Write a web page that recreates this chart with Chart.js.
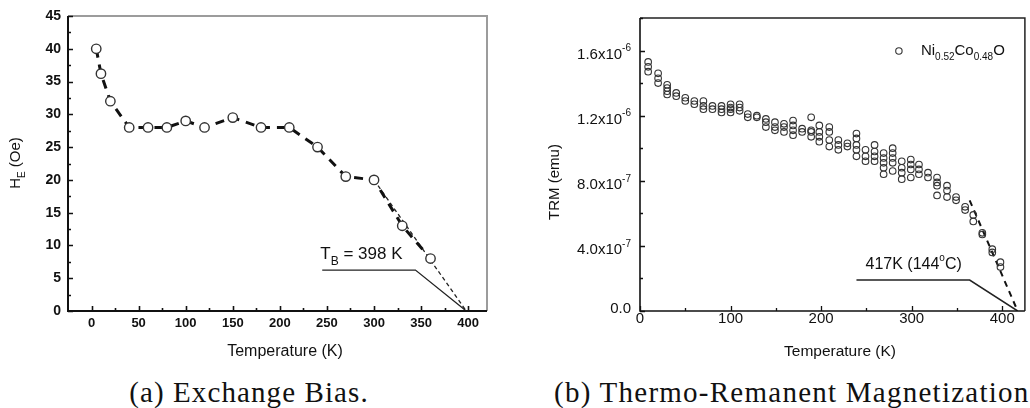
<!DOCTYPE html>
<html lang="en">
<head>
<meta charset="UTF-8" />
<title>Exchange Bias and Thermo-Remanent Magnetization</title>
<script src="https://cdn.jsdelivr.net/npm/chart.js"></script>
<style>
  body { margin: 0; background: #fff; width: 1030px; height: 408px; overflow: hidden; position: relative; }
  .panel { position: absolute; top: 0; height: 370px; }
  #panelA { left: 0; width: 510px; }
  #panelB { left: 510px; width: 520px; }
  .caption { position: absolute; top: 376px; line-height: 32px; font-family: "Liberation Serif", "Times New Roman", serif;
             font-size: 29px; letter-spacing: 1.1px; color: #111; white-space: nowrap; }
  #capA { left: 0; width: 498px; text-align: center; }
  #capB { left: 554px; letter-spacing: 1.25px; }
</style>
</head>
<body>
<div class="panel" id="panelA"><canvas id="biasChart"></canvas></div>
<div class="panel" id="panelB"><canvas id="trmChart"></canvas></div>
<div class="caption" id="capA">(a) Exchange Bias.</div>
<div class="caption" id="capB">(b) Thermo-Remanent Magnetization</div>

<script>
// --- (a) exchange bias field H_E (Oe) vs temperature (K)
const biasTemps = [5, 10, 20, 40, 60, 80, 100, 120, 150, 180, 210, 240, 270, 300, 330, 360];
const biasField = [40, 36.2, 32, 28, 28, 28, 29, 28, 29.5, 28, 28, 25, 20.5, 20, 13, 8];
// straight-line extrapolation down to the blocking temperature
const biasFitTemps = [300, 398];
const biasFitField = [20, 0];
// leader line from the T_B label to the axis
const biasLeaderTemps = [245, 344, 398];
const biasLeaderField = [6.25, 6.25, 0];
const biasXTicks = [0, 50, 100, 150, 200, 250, 300, 350, 400];
const biasYTicks = [0, 5, 10, 15, 20, 25, 30, 35, 40, 45];

// --- (b) TRM (units of 1e-6 emu); several runs read at each temperature
const trmTemps = [9, 20, 30, 40, 50, 60, 70, 80, 90, 100, 110, 119, 129, 139, 149, 159, 169, 179, 189, 198,
                  209, 219, 229, 239, 249, 259, 269, 279, 289, 299, 308, 318, 328, 339, 349, 359, 368, 378, 389, 398];
const trmReadings = [
  [1.53, 1.50, 1.47], [1.46, 1.43, 1.40], [1.39, 1.37, 1.35, 1.33], [1.34, 1.32], [1.31, 1.29],
  [1.29, 1.27], [1.29, 1.26, 1.24], [1.26, 1.24], [1.26, 1.24, 1.22], [1.27, 1.25, 1.24, 1.22],
  [1.27, 1.25, 1.23], [1.21, 1.19], [1.20, 1.19], [1.18, 1.16, 1.13], [1.16, 1.13, 1.11],
  [1.15, 1.13, 1.10], [1.17, 1.14, 1.11, 1.08], [1.12, 1.10], [1.19, 1.11, 1.10, 1.07], [1.14, 1.10, 1.07, 1.04],
  [1.13, 1.10, 1.05, 1.01], [1.05, 1.02, 0.99], [1.03, 1.01], [1.09, 1.06, 1.02, 0.99, 0.95], [0.99, 0.95, 0.92],
  [1.02, 0.98, 0.95, 0.92], [0.97, 0.94, 0.91, 0.88, 0.84], [1.00, 0.97, 0.94, 0.91, 0.86], [0.92, 0.88, 0.85, 0.81], [0.93, 0.90, 0.87, 0.82],
  [0.90, 0.87, 0.84], [0.85, 0.82], [0.82, 0.79, 0.77, 0.71], [0.77, 0.74, 0.70], [0.70, 0.68],
  [0.64, 0.62], [0.59, 0.55], [0.48, 0.47], [0.38, 0.36], [0.30, 0.27]
];
const trmFitTemps = [364, 417];
const trmFitValues = [0.68, 0];
const trmLeaderTemps = [239, 364, 417];
const trmLeaderValues = [0.19, 0.19, 0];
const trmXTicks = [0, 100, 200, 300, 400];
const trmYTicks = [0, 0.4, 0.8, 1.2, 1.6];
const trmYLabels = [['0.0', ''], ['4.0x10', '-7'], ['8.0x10', '-7'], ['1.2x10', '-6'], ['1.6x10', '-6']];
const EMU = 1e-6;

const FONT = '"Liberation Sans", Arial, sans-serif';

// text with sub/superscript pieces: parts = [[text, 'sub'|'sup'|undefined], ...]
function drawRich(ctx, parts, x, y, size, align, weight, smallRatio) {
  weight = weight || 'normal';
  const small = Math.round(size * (smallRatio || 0.64));
  let w = 0;
  for (const [t, mode] of parts) {
    ctx.font = `${weight} ${mode ? small : size}px ${FONT}`;
    w += ctx.measureText(t).width;
  }
  let cx = align === 'right' ? x - w : align === 'center' ? x - w / 2 : x;
  ctx.textAlign = 'left';
  ctx.textBaseline = 'middle';
  for (const [t, mode] of parts) {
    ctx.font = `${weight} ${mode ? small : size}px ${FONT}`;
    const dy = mode === 'sub' ? size * 0.42 : mode === 'sup' ? -size * 0.4 : 0;
    ctx.fillText(t, cx, y + dy);
    cx += ctx.measureText(t).width;
  }
}

function midpoints(arr) {
  const out = [];
  for (let i = 0; i < arr.length - 1; i++) out.push((arr[i] + arr[i + 1]) / 2);
  return out;
}

// frame, inward tick marks, tick labels and axis titles
function makeDeco(cfg) {
  return {
    id: 'deco',
    afterDatasetsDraw(chart) {
      const { ctx, chartArea: a, scales: { x, y } } = chart;
      ctx.save();
      ctx.lineCap = 'butt';
      // top and right edges of the box
      ctx.strokeStyle = cfg.frameColor;
      ctx.lineWidth = cfg.frameWidth;
      ctx.beginPath();
      ctx.moveTo(a.left, a.top); ctx.lineTo(a.right, a.top); ctx.lineTo(a.right, a.bottom);
      ctx.stroke();
      // axes
      ctx.strokeStyle = cfg.axisColor;
      ctx.lineWidth = cfg.axisWidth;
      ctx.beginPath();
      ctx.moveTo(a.left, a.top); ctx.lineTo(a.left, a.bottom); ctx.lineTo(a.right, a.bottom);
      ctx.stroke();
      // ticks
      ctx.lineWidth = cfg.tickWidth;
      const tick = (vals, len, horiz) => {
        ctx.beginPath();
        for (const v of vals) {
          if (horiz) {
            const px = Math.round(x.getPixelForValue(v)) + 0.5;
            ctx.moveTo(px, a.bottom); ctx.lineTo(px, a.bottom - len);
          } else {
            const py = Math.round(y.getPixelForValue(v)) + 0.5;
            ctx.moveTo(a.left, py); ctx.lineTo(a.left + len, py);
          }
        }
        ctx.stroke();
      };
      tick(cfg.xMajor, cfg.majorLen, true);
      tick(cfg.xMinor, cfg.minorLen, true);
      tick(cfg.yMajor, cfg.majorLen, false);
      tick(cfg.yMinor, cfg.minorLen, false);
      // tick labels
      ctx.fillStyle = '#111';
      cfg.xMajor.forEach((v, i) => {
        drawRich(ctx, [[cfg.xText(v, i)]], x.getPixelForValue(v), a.bottom + cfg.xLabelDy, cfg.xFont, 'center', cfg.tickWeight);
      });
      cfg.yMajor.forEach((v, i) => {
        drawRich(ctx, cfg.yParts(v, i), a.left - cfg.yLabelGap, y.getPixelForValue(v) + cfg.yLabelDy(i), cfg.yFont, 'right', cfg.tickWeight);
      });
      // axis titles
      drawRich(ctx, cfg.xTitle, cfg.xTitlePos[0], cfg.xTitlePos[1], cfg.xTitleFont, 'center');
      ctx.save();
      ctx.translate(cfg.yTitlePos[0], cfg.yTitlePos[1]);
      ctx.rotate(-Math.PI / 2);
      drawRich(ctx, cfg.yTitle, 0, 0, cfg.yTitleFont, 'center');
      ctx.restore();
      if (cfg.extra) cfg.extra(chart);
      ctx.restore();
    }
  };
}

function pinScale(width, height) {
  return scale => {
    if (width != null) scale.width = width;
    if (height != null) scale.height = height;
  };
}

// ---------- (a) exchange bias
new Chart(document.getElementById('biasChart'), {
  type: 'scatter',
  data: {
    datasets: [
      {
        data: biasTemps.map((t, i) => ({ x: t, y: biasField[i] })),
        showLine: true,
        borderColor: '#111',
        borderWidth: 3,
        borderDash: [9, 7],
        pointRadius: 4.7,
        pointBackgroundColor: '#fff',
        pointBorderColor: '#333',
        pointBorderWidth: 1.4
      },
      {
        data: biasFitTemps.map((t, i) => ({ x: t, y: biasFitField[i] })),
        showLine: true,
        borderColor: '#222',
        borderWidth: 1.3,
        borderDash: [4, 3],
        pointRadius: 0
      },
      {
        data: biasLeaderTemps.map((t, i) => ({ x: t, y: biasLeaderField[i] })),
        showLine: true,
        borderColor: '#222',
        borderWidth: 1.3,
        pointRadius: 0
      }
    ]
  },
  options: {
    responsive: true,
    maintainAspectRatio: false,
    animation: false,
    events: [],
    layout: { padding: { left: 0, top: 16, right: 23, bottom: 0 } },
    scales: {
      x: {
        type: 'linear', min: -25, max: 420,
        grid: { display: false }, border: { display: false },
        ticks: { display: false },
        afterFit: pinScale(null, 59)
      },
      y: {
        type: 'linear', min: 0, max: 45,
        grid: { display: false }, border: { display: false },
        ticks: { display: false },
        afterFit: pinScale(68, null)
      }
    },
    plugins: { legend: { display: false }, tooltip: { enabled: false } }
  },
  plugins: [makeDeco({
    frameColor: '#9c9c9c', frameWidth: 2, axisColor: '#111', axisWidth: 2, tickWidth: 1.6,
    majorLen: 5, minorLen: 3,
    xMajor: biasXTicks, xMinor: midpoints(biasXTicks),
    yMajor: biasYTicks, yMinor: midpoints(biasYTicks),
    xText: v => String(v), yParts: v => [[String(v)]],
    xFont: 13, yFont: 14, tickWeight: 'bold',
    xLabelDy: 12, yLabelGap: 7, yLabelDy: () => 0,
    xTitleFont: 16, yTitleFont: 15,
    xTitle: [['Temperature (K)']], xTitlePos: [285, 352],
    yTitle: [['H'], ['E', 'sub'], [' (Oe)']], yTitlePos: [16, 163],
    extra(chart) {
      const { ctx, scales: { x, y } } = chart;
      ctx.fillStyle = '#111';
      drawRich(ctx, [['T'], ['B', 'sub'], [' = 398 K']], x.getPixelForValue(243), y.getPixelForValue(8.6), 17, 'left', 'normal', 0.72);
    }
  })]
});

// ---------- (b) thermo-remanent magnetization
const trmPoints = [];
trmTemps.forEach((t, i) => trmReadings[i].forEach(m => trmPoints.push({ x: t, y: m * EMU })));

new Chart(document.getElementById('trmChart'), {
  type: 'scatter',
  data: {
    datasets: [
      {
        data: trmPoints,
        pointRadius: 3.3,
        pointBackgroundColor: 'rgba(0,0,0,0)',
        pointBorderColor: '#333',
        pointBorderWidth: 1.1
      },
      {
        data: trmFitTemps.map((t, i) => ({ x: t, y: trmFitValues[i] * EMU })),
        showLine: true,
        borderColor: '#111',
        borderWidth: 2,
        borderDash: [6, 5],
        pointRadius: 0
      },
      {
        data: trmLeaderTemps.map((t, i) => ({ x: t, y: trmLeaderValues[i] * EMU })),
        showLine: true,
        borderColor: '#222',
        borderWidth: 1.5,
        pointRadius: 0
      }
    ]
  },
  options: {
    responsive: true,
    maintainAspectRatio: false,
    animation: false,
    events: [],
    layout: { padding: { left: 0, top: 18, right: 3, bottom: 0 } },
    scales: {
      x: {
        type: 'linear', min: 0, max: 425,
        grid: { display: false }, border: { display: false },
        ticks: { display: false },
        afterFit: pinScale(null, 59)
      },
      y: {
        type: 'linear', min: 0, max: 1.8 * EMU,
        grid: { display: false }, border: { display: false },
        ticks: { display: false },
        afterFit: pinScale(130, null)
      }
    },
    plugins: { legend: { display: false }, tooltip: { enabled: false } }
  },
  plugins: [makeDeco({
    frameColor: '#222', frameWidth: 1.5, axisColor: '#111', axisWidth: 1.6, tickWidth: 1.3,
    majorLen: 5, minorLen: 3,
    xMajor: trmXTicks, xMinor: midpoints(trmXTicks),
    yMajor: trmYTicks.map(v => v * EMU), yMinor: midpoints(trmYTicks).concat([1.8]).map(v => v * EMU),
    xText: v => String(v),
    yParts: (v, i) => trmYLabels[i][1] ? [[trmYLabels[i][0]], [trmYLabels[i][1], 'sup']] : [[trmYLabels[i][0]]],
    xFont: 15, yFont: 15, tickWeight: 'normal',
    xLabelDy: 8, yLabelGap: 9, yLabelDy: i => (i === 0 ? -2 : 4),
    xTitleFont: 15.5, yTitleFont: 15,
    xTitle: [['Temperature (K)']], xTitlePos: [330, 352],
    yTitle: [['TRM (emu)']], yTitlePos: [45, 182],
    extra(chart) {
      const { ctx, chartArea: a, scales: { x, y } } = chart;
      ctx.fillStyle = '#111';
      drawRich(ctx, [['417K (144'], ['o', 'sup'], ['C)']], x.getPixelForValue(249), y.getPixelForValue(0.283 * EMU), 16, 'left');
      // legend
      ctx.strokeStyle = '#333';
      ctx.lineWidth = 1.1;
      ctx.beginPath();
      ctx.arc(a.right - 126, 51, 3.2, 0, Math.PI * 2);
      ctx.stroke();
      drawRich(ctx, [['Ni'], ['0.52', 'sub'], ['Co'], ['0.48', 'sub'], ['O']], a.right - 104, 51, 15, 'left');
    }
  })]
});
</script>
</body>
</html>
